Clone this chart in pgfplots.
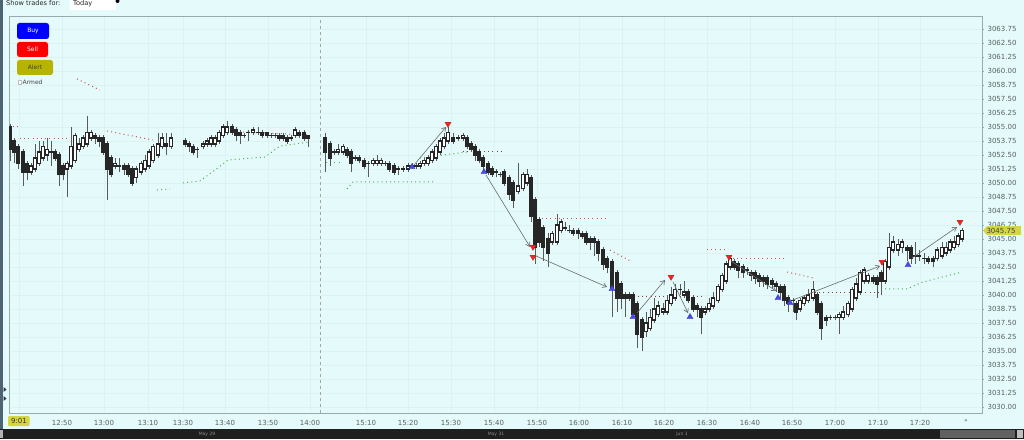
\documentclass[border=0pt]{standalone}
\usepackage{pgfplots}
\pgfplotsset{compat=1.18}
\usepackage{pgfplotstable}
\usepackage{fontspec}
\setmainfont{DejaVu Sans}
\usetikzlibrary{arrows.meta}

\definecolor{bg}{HTML}{E5FBFB}
\definecolor{gridc}{HTML}{DCF3F3}
\definecolor{boxc}{HTML}{98ACAC}
\definecolor{lbl}{HTML}{58615F}
\definecolor{wick}{HTML}{5A5A5A}
\definecolor{body}{HTML}{262626}
\definecolor{resist}{HTML}{CC5050}
\definecolor{support}{HTML}{4CAC4C}
\definecolor{buyc}{HTML}{4848F0}
\definecolor{sellc}{HTML}{F02424}
\definecolor{tagc}{HTML}{D6D640}
\definecolor{alertc}{HTML}{B6B400}
\definecolor{arrowc}{HTML}{6A6A6A}
\definecolor{slate}{HTML}{4C6474}

% one-minute candles: x = bar position, o h l c = prices
\pgfplotstableread{
x o h l c
10 3055.00 3055.25 3052.00 3053.00
14 3053.75 3054.00 3051.75 3052.75
18 3053.25 3053.50 3051.25 3051.75
23 3052.75 3053.00 3049.75 3051.00
27 3051.75 3052.00 3050.25 3051.00
31 3051.00 3051.75 3050.75 3051.50
35 3051.25 3053.50 3051.00 3052.25
39 3051.75 3053.75 3051.50 3052.75
43 3052.25 3053.75 3052.00 3053.25
47 3052.50 3054.00 3052.00 3053.00
51 3052.75 3053.75 3051.50 3052.75
55 3052.75 3053.00 3052.00 3052.25
59 3052.50 3052.75 3049.75 3050.75
63 3051.50 3051.75 3050.25 3050.75
67 3051.25 3052.00 3048.75 3051.75
71 3051.50 3055.00 3051.25 3053.25
75 3052.00 3054.50 3051.75 3054.25
79 3053.00 3054.00 3052.75 3053.50
83 3053.25 3054.25 3053.00 3054.00
87 3053.50 3056.00 3053.25 3054.50
91 3054.00 3054.75 3053.75 3054.50
95 3054.25 3054.50 3053.50 3054.00
99 3054.00 3054.25 3053.25 3053.75
103 3054.00 3054.25 3052.50 3052.75
107 3053.50 3053.75 3048.50 3051.25
111 3052.25 3052.50 3050.50 3050.75
115 3051.50 3052.25 3051.25 3051.75
119 3051.50 3052.25 3051.00 3051.50
124 3051.50 3051.75 3050.75 3051.25
128 3051.50 3051.75 3050.50 3050.75
132 3051.25 3051.50 3049.75 3050.00
136 3050.50 3051.50 3050.00 3051.25
141 3051.00 3052.00 3050.75 3051.75
145 3051.25 3052.50 3051.00 3052.00
149 3051.50 3053.00 3051.25 3052.75
153 3052.00 3053.50 3051.75 3053.25
158 3052.50 3054.50 3052.25 3053.50
162 3053.25 3054.50 3053.00 3054.00
166 3053.50 3054.50 3052.50 3053.25
171 3053.25 3054.50 3053.00 3054.00
185 3053.75 3054.00 3053.25 3053.50
189 3053.50 3053.75 3052.75 3053.25
193 3053.25 3053.50 3052.50 3052.75
197 3053.00 3053.25 3052.25 3053.00
203 3053.25 3053.75 3053.00 3053.50
207 3053.50 3054.00 3053.25 3053.75
211 3053.50 3054.25 3053.25 3054.00
215 3053.50 3054.25 3053.25 3054.00
219 3053.75 3054.75 3053.50 3054.50
223 3054.25 3055.25 3054.00 3055.00
227 3054.50 3055.50 3054.25 3055.00
232 3055.00 3055.25 3054.25 3054.50
236 3054.75 3055.00 3053.75 3054.25
240 3054.50 3054.75 3053.50 3054.25
244 3054.25 3054.50 3054.00 3054.25
248 3054.50 3054.75 3053.75 3054.50
253 3054.50 3055.00 3054.25 3054.75
258 3054.50 3055.00 3054.25 3054.50
262 3054.50 3054.75 3054.00 3054.25
267 3054.50 3054.50 3054.00 3054.25
271 3054.25 3054.50 3054.00 3054.25
275 3054.25 3054.50 3054.00 3054.25
279 3054.25 3054.50 3053.75 3054.00
283 3054.25 3054.50 3053.75 3054.00
287 3054.00 3054.25 3053.50 3053.75
291 3054.00 3054.25 3053.75 3054.00
295 3054.25 3055.00 3054.00 3054.75
299 3054.50 3054.75 3054.00 3054.25
304 3054.50 3054.75 3053.75 3054.00
308 3054.25 3054.25 3053.25 3054.00
325 3054.00 3054.50 3051.00 3052.75
330 3053.50 3053.75 3051.50 3052.25
334 3052.75 3053.00 3052.50 3052.75
338 3052.75 3053.50 3052.50 3053.00
343 3052.75 3053.50 3052.50 3053.25
347 3053.00 3053.25 3052.25 3052.50
351 3052.75 3053.00 3051.00 3051.75
355 3052.25 3052.50 3052.00 3052.25
359 3052.25 3052.50 3051.75 3052.00
364 3052.00 3052.25 3051.25 3051.50
368 3051.75 3052.00 3050.50 3051.75
373 3051.75 3052.25 3051.50 3052.00
377 3051.75 3052.50 3051.50 3052.00
381 3051.75 3052.25 3051.50 3052.00
385 3051.75 3052.00 3051.50 3051.75
389 3051.75 3052.00 3051.00 3051.25
394 3051.50 3051.75 3050.75 3051.00
398 3051.25 3051.50 3050.75 3051.25
403 3051.25 3051.50 3051.00 3051.25
408 3051.25 3051.75 3051.00 3051.50
412 3051.50 3051.75 3051.25 3051.50
416 3051.50 3051.75 3051.25 3051.50
420 3051.50 3052.00 3051.25 3051.75
424 3051.75 3052.25 3051.50 3052.00
428 3051.75 3052.50 3051.50 3052.25
432 3052.00 3053.00 3051.75 3052.75
436 3052.25 3053.50 3052.00 3053.25
440 3052.75 3054.00 3052.50 3053.75
444 3053.25 3054.50 3053.00 3054.00
448 3053.75 3055.00 3053.50 3054.50
453 3054.00 3054.50 3053.50 3053.75
458 3054.00 3054.25 3053.75 3054.00
463 3054.00 3054.50 3053.75 3054.25
467 3054.00 3054.25 3053.00 3053.25
471 3053.50 3053.75 3052.75 3053.00
475 3053.25 3053.50 3052.00 3052.50
479 3052.75 3053.00 3051.75 3052.00
483 3052.25 3052.50 3051.00 3051.50
488 3051.75 3052.00 3050.75 3051.00
492 3051.25 3051.50 3050.50 3050.75
496 3051.00 3051.25 3050.50 3051.00
500 3050.75 3051.00 3050.50 3050.75
504 3051.00 3051.25 3049.75 3050.00
509 3050.50 3050.75 3048.50 3049.00
513 3050.00 3050.25 3047.75 3048.50
518 3049.25 3051.75 3049.00 3049.75
523 3049.50 3051.00 3049.25 3050.75
527 3050.00 3051.25 3049.75 3050.75
531 3050.50 3050.75 3046.50 3047.00
535 3048.50 3048.75 3042.75 3044.25
539 3046.75 3047.00 3044.25 3044.75
543 3046.00 3046.25 3043.00 3044.25
548 3045.00 3045.50 3042.50 3043.75
552 3044.75 3045.75 3044.50 3045.50
557 3044.75 3047.25 3044.50 3046.25
561 3045.75 3046.75 3045.50 3046.50
565 3046.00 3046.50 3045.75 3046.00
569 3045.75 3046.25 3045.50 3045.75
573 3045.75 3046.00 3045.25 3045.50
578 3045.75 3046.00 3045.00 3045.50
582 3045.50 3045.75 3045.00 3045.25
586 3045.50 3045.75 3044.50 3044.75
590 3045.00 3045.25 3044.00 3044.75
594 3045.00 3045.25 3043.50 3044.75
598 3044.75 3045.00 3043.00 3043.75
603 3044.00 3044.25 3042.25 3042.75
607 3043.25 3043.50 3042.00 3042.50
612 3043.00 3043.25 3038.00 3040.50
617 3042.00 3042.25 3038.50 3039.75
621 3041.00 3041.25 3038.75 3039.75
625 3040.00 3040.25 3038.00 3039.75
629 3040.00 3040.25 3039.50 3039.75
633 3040.00 3040.25 3038.00 3038.25
637 3039.25 3039.50 3035.25 3036.50
642 3037.75 3038.00 3035.00 3036.25
646 3036.75 3038.50 3036.25 3037.50
650 3037.00 3038.75 3036.75 3038.00
654 3037.75 3039.75 3037.50 3038.75
658 3038.25 3039.50 3038.00 3039.00
663 3038.50 3039.25 3038.25 3038.75
667 3038.50 3040.00 3038.25 3039.50
671 3039.25 3040.75 3039.00 3040.00
675 3039.75 3041.00 3039.50 3040.50
680 3040.50 3041.00 3040.00 3040.50
684 3040.00 3041.25 3039.75 3040.25
688 3040.25 3040.50 3039.25 3039.50
693 3039.75 3040.00 3038.50 3038.75
697 3039.00 3039.25 3038.00 3038.75
701 3038.75 3039.00 3036.50 3038.00
705 3038.50 3039.00 3038.25 3038.75
709 3038.75 3039.75 3038.50 3039.25
713 3039.00 3040.25 3038.75 3039.75
718 3039.50 3041.00 3039.25 3040.75
722 3040.50 3042.00 3040.25 3041.75
726 3041.25 3043.00 3041.00 3042.75
730 3042.50 3043.50 3042.25 3043.25
734 3043.00 3043.25 3042.25 3042.50
738 3042.75 3043.00 3041.50 3042.25
743 3042.50 3042.75 3041.50 3042.00
747 3042.25 3042.50 3041.75 3042.25
751 3042.00 3042.25 3041.25 3041.75
755 3042.00 3042.25 3041.00 3041.50
759 3041.75 3042.00 3040.75 3041.25
763 3041.50 3041.75 3040.75 3041.25
767 3041.50 3041.75 3040.50 3041.00
772 3041.25 3041.50 3040.50 3041.00
776 3041.00 3041.25 3040.25 3040.75
780 3040.75 3041.00 3039.75 3040.25
784 3040.75 3041.00 3039.00 3039.50
788 3039.75 3040.00 3038.50 3039.25
793 3039.50 3039.75 3038.50 3039.50
796 3039.25 3039.50 3037.75 3038.50
800 3038.75 3039.75 3038.50 3039.50
804 3039.25 3040.00 3039.00 3039.75
808 3039.50 3040.50 3039.25 3040.00
813 3039.75 3041.25 3039.50 3040.50
817 3040.00 3040.25 3038.25 3038.50
821 3039.25 3039.50 3036.00 3037.00
826 3038.00 3038.25 3037.25 3037.75
830 3038.00 3038.25 3037.75 3038.00
835 3038.00 3038.25 3037.75 3038.00
839 3038.00 3038.50 3036.50 3038.25
843 3038.00 3039.00 3037.75 3038.50
848 3038.25 3039.50 3038.00 3039.25
852 3038.75 3040.75 3038.50 3040.50
856 3039.75 3041.50 3039.50 3041.00
860 3040.25 3042.25 3040.00 3042.00
864 3041.25 3042.50 3041.00 3042.25
868 3041.25 3042.00 3041.00 3041.75
873 3041.50 3041.75 3041.00 3041.25
877 3041.50 3041.75 3039.75 3041.00
881 3042.00 3042.25 3040.00 3041.25
885 3041.25 3043.25 3041.00 3043.00
889 3042.50 3045.50 3042.25 3044.25
893 3044.00 3045.25 3043.75 3044.75
898 3044.00 3045.00 3043.50 3044.50
902 3044.25 3045.00 3043.75 3044.75
907 3044.25 3044.50 3043.00 3044.00
911 3044.25 3044.50 3042.75 3043.25
915 3043.50 3044.75 3042.75 3043.50
919 3043.50 3044.00 3043.00 3043.50
924 3043.25 3043.75 3042.75 3043.25
928 3043.25 3043.50 3042.75 3043.00
933 3043.25 3043.50 3042.50 3043.00
937 3043.25 3044.25 3043.00 3044.00
942 3043.50 3044.75 3043.25 3044.25
946 3043.75 3044.75 3043.50 3044.25
950 3044.00 3045.00 3043.75 3044.75
954 3044.25 3045.25 3044.00 3044.75
958 3044.50 3045.50 3044.25 3045.25
962 3045.00 3046.00 3044.75 3045.75
}\candles

\begin{document}
\begin{tikzpicture}[font=\fontsize{7}{8}\selectfont]
\begin{scope}[x=1pt,y=1pt]
\useasboundingbox (0,0) rectangle (1024,439);
\fill[bg] (0,0) rectangle (1024,439);
\fill[slate] (0,10) rectangle (2.5,439);
\fill[black!80] (3.5,52) -- (6.5,49.5) -- (3.5,47) -- cycle;
\fill[black!80] (3.5,43) -- (6.5,40.5) -- (3.5,38) -- cycle;

% toolbar
\node[anchor=base west, inner sep=0, text=black!85] at (6,433) {\fontsize{6.6}{8}\selectfont Show trades for:};
\fill[white] (70,429) rectangle (116,439);
\node[anchor=base west, inner sep=0, text=black!85] at (73,433) {\fontsize{6.6}{8}\selectfont Today};
\fill[black] (117.5,438) circle (2);

% bottom bar
\fill[black!88] (0,0) rectangle (1024,10);
\fill[black!62] (940,1) rectangle (1015,9);
\fill[black!25] (1017,1) rectangle (1023,9);
\fill[black!30] (0,1) rectangle (3,9);
\node[text=black!45, inner sep=0] at (207,5) {\fontsize{4.5}{5}\selectfont May 29};
\node[text=black!45, inner sep=0] at (496,5) {\fontsize{4.5}{5}\selectfont May 31};
\node[text=black!45, inner sep=0] at (682,5) {\fontsize{4.5}{5}\selectfont Jun 1};
\end{scope}

\begin{axis}[
    at={(9pt,26pt)}, anchor=south west,
    width=973pt, height=397pt, scale only axis,
    xmin=9, xmax=982, ymin=3029.46, ymax=3064.91,
    axis line style={boxc, line width=0.6pt},
    xtick={19,62,104,148,183,225,268,310,366,408,451,494,537,579,622,664,707,750,792,835,878,920},
    xticklabels={{},12:50,13:00,13:10,13:30,13:40,13:50,14:00,15:10,15:20,15:30,15:40,15:50,16:00,16:10,16:20,16:30,16:40,16:50,17:00,17:10,17:20},
    xtick style={draw=none},
    xticklabel style={text=lbl, yshift=-2pt},
    ytick distance=1.25,
    ytick pos=right, yticklabel pos=right,
    tick align=outside, major tick length=2pt,
    ytick style={color=boxc},
    yticklabel style={text=lbl, /pgf/number format/.cd, fixed, fixed zerofill, precision=2, 1000 sep={}},
    /pgf/number format/assume math mode=true,
    ticklabel style={font=\fontsize{7}{8}\selectfont},
    grid=major, grid style={gridc, line width=0.4pt},
    clip mode=individual,
]
% session separator
\addplot[black!35, line width=0.4pt, dash pattern=on 3pt off 3pt] coordinates {(320,3029.46) (320,3064.91)};

% resistance (red) and support (green) dotted levels
\pgfplotsset{lvl/.style={line width=1pt, dash pattern=on 1pt off 3.2pt}}
\addplot[lvl, resist] coordinates {(9,3055.00) (20,3055.00)};
\addplot[lvl, resist] coordinates {(20,3053.93) (68,3053.93)};
\addplot[lvl, resist] coordinates {(77,3059.29) (100,3058.30)};
\addplot[lvl, resist] coordinates {(107,3054.64) (153,3053.84)};
\addplot[lvl, resist] coordinates {(243,3054.55) (310,3054.29)};
\addplot[lvl, resist!70!black] coordinates {(463,3052.77) (502,3052.77)};
\addplot[lvl, resist] coordinates {(542,3046.79) (608,3046.79)};
\addplot[lvl, resist] coordinates {(610,3044.02) (632,3042.95)};
\addplot[lvl, resist!70!black] coordinates {(638,3039.87) (702,3039.87)};
\addplot[lvl, resist] coordinates {(707,3044.02) (728,3044.02)};
\addplot[lvl, resist] coordinates {(733,3043.30) (785,3043.30)};
\addplot[lvl, resist] coordinates {(787,3042.05) (813,3041.52)};
\addplot[lvl, resist!70!black] coordinates {(815,3040.18) (880,3040.18)};
\addplot[lvl, support] coordinates {(157,3049.38) (170,3049.47)};
\addplot[lvl, support] coordinates {(183,3050.00) (200,3050.18) (215,3051.16) (228,3052.05) (265,3052.32) (280,3053.30) (310,3053.66)};
\addplot[lvl, support] coordinates {(326,3051.79) (340,3051.79)};
\addplot[lvl, support] coordinates {(347,3049.47) (353,3050.09) (433,3050.09)};
\addplot[lvl, support] coordinates {(420,3052.23) (467,3052.77)};
\addplot[lvl, support] coordinates {(885,3040.54) (907,3040.54) (923,3041.16) (962,3042.05)};

% wicks
\addplot[draw=none, mark=none, error bars/.cd, y dir=plus, y explicit, error mark=none,
    error bar style={draw=wick, line width=0.9pt}]
    table[x=x, y=l, y error expr=\thisrow{h}-\thisrow{l}] {\candles};
% bodies: dark block for every candle, white inside for rising ones
\addplot[draw=none, mark=none, error bars/.cd, y dir=plus, y explicit, error mark=none,
    error bar style={draw=body, line width=3.4pt}]
    table[x=x, y expr={min(\thisrow{o},\thisrow{c})-0.07}, y error expr={abs(\thisrow{c}-\thisrow{o})+0.14}] {\candles};
\addplot[draw=none, mark=none, error bars/.cd, y dir=plus, y explicit, error mark=none,
    error bar style={draw=white, line width=2pt}]
    table[x=x, y expr={min(\thisrow{o},\thisrow{c})+0.07}, y error expr={max(\thisrow{c}-\thisrow{o}-0.14,0)}] {\candles};

% trade arrows
\pgfplotsset{trade/.style={arrowc, line width=0.6pt, -{Straight Barb[length=4pt,width=5pt]}}}
\addplot[trade] coordinates {(414,3051.61) (446,3055.00)};
\addplot[trade] coordinates {(486,3050.71) (530,3044.29)};
\addplot[trade] coordinates {(536,3043.48) (607,3040.71)};
\addplot[trade] coordinates {(637,3038.39) (665,3041.34)};
\addplot[trade] coordinates {(673,3041.16) (688,3038.39)};
\addplot[trade] coordinates {(731,3043.04) (776,3040.36)};
\addplot[trade] coordinates {(793,3039.55) (880,3042.59)};
\addplot[trade] coordinates {(912,3043.30) (957,3046.07)};

% buy and sell signals
\addplot[only marks, mark=triangle*, mark size=3.5pt, mark options={fill=buyc, draw=buyc!80!black, line width=0.3pt}]
    coordinates {(412,3051.43) (484,3050.98) (612,3040.54) (633,3038.04) (690,3038.04) (778,3039.73) (790,3039.29) (908,3042.68)};
\addplot[only marks, mark=triangle*, mark size=3.5pt, mark options={rotate=180, fill=sellc, draw=sellc!80!black, line width=0.3pt}]
    coordinates {(448,3055.27) (533,3044.29) (533,3043.39) (671,3041.61) (729,3043.39) (882,3042.95) (960,3046.52)};
\end{axis}

\begin{scope}[x=1pt,y=1pt]
% last price tag on the price scale
\fill[tagc] (983,208.4) -- (987,212.8) -- (1021,212.8) -- (1021,204) -- (987,204) -- cycle;
\node[anchor=west, inner sep=0, text=black!75] at (986.3,208.4) {3045.75};
% start time tag
\fill[tagc, rounded corners=1pt] (8,13) rectangle (29.5,23);
\node[inner sep=0, text=black!80] at (19,18) {9:01};
\node[inner sep=0, text=lbl] at (966,18) {\fontsize{6}{7}\selectfont »};

% signal buttons
\fill[blue, rounded corners=2.5pt] (17,400) rectangle (49,416);
\node[text=white, inner sep=0] at (33,408) {\fontsize{6}{7}\selectfont Buy};
\fill[red, rounded corners=2.5pt] (17,382) rectangle (48,397);
\node[text=white, inner sep=0] at (32.5,389.5) {\fontsize{6}{7}\selectfont Sell};
\fill[alertc, rounded corners=2.5pt] (17,364) rectangle (53,379);
\node[text=black!75, inner sep=0] at (35,371.5) {\fontsize{6}{7}\selectfont Alert};
\draw[black!25, fill=white, line width=0.3pt] (18,355.2) rectangle (21.2,358.6);
\node[anchor=west, text=black!75, inner sep=0] at (22.5,357) {\fontsize{6}{7}\selectfont Armed};
\end{scope}
\end{tikzpicture}
\end{document}
